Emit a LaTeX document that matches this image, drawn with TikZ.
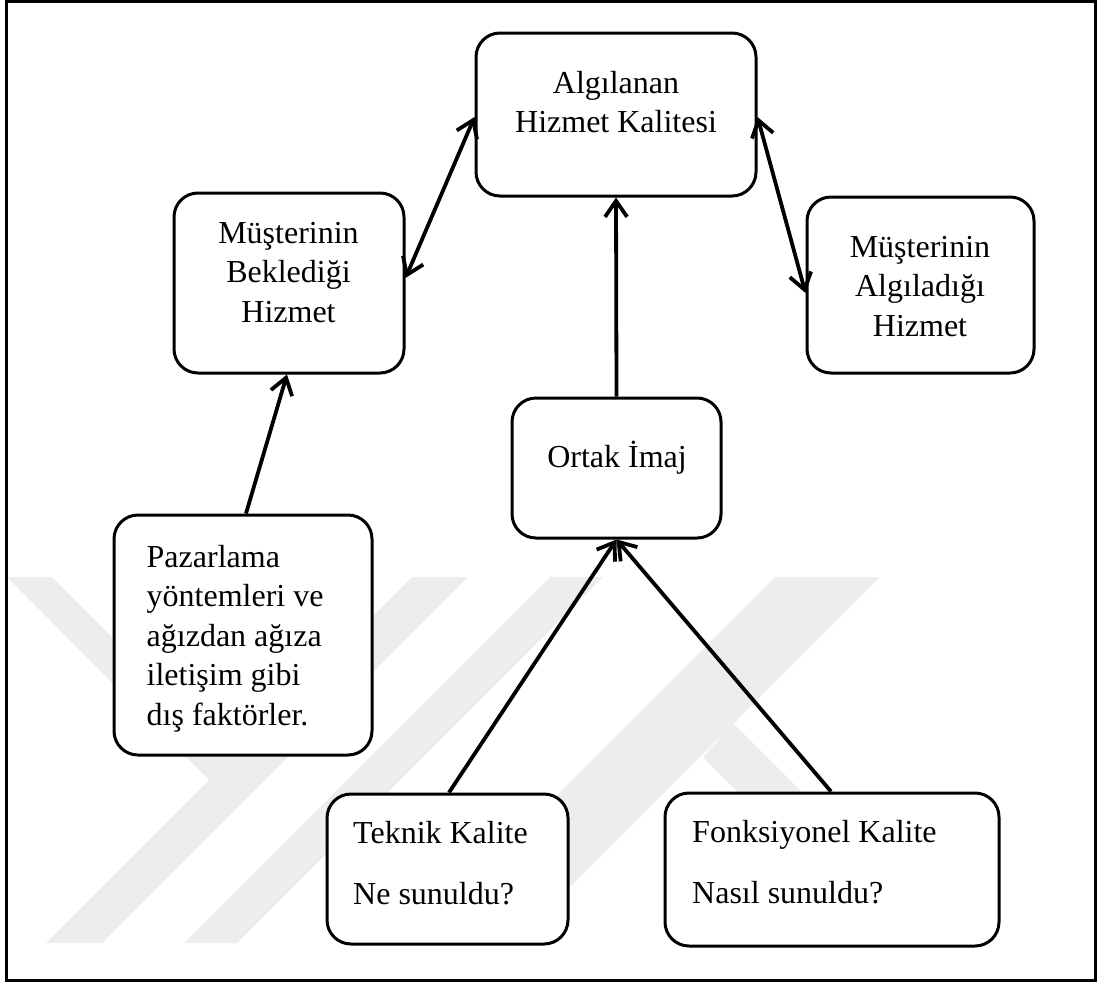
\documentclass[tikz,border=0pt]{standalone}
\usepackage{fontspec}
\setmainfont{Liberation Serif}
\usetikzlibrary{arrows.meta}
\begin{document}
\begin{tikzpicture}[x=1pt,y=-1pt,
  box/.style={draw,line width=3pt,rounded corners=24pt,fill=white,inner sep=0pt},
  txt/.style={inner sep=0pt,font=\fontsize{32}{39.5}\selectfont},
  link/.style={line width=3.8pt,-{Straight Barb[length=16pt,width=22pt]}},
  both/.style={line width=3.8pt,{Straight Barb[length=16pt,width=22pt]}-{Straight Barb[length=16pt,width=22pt]}},
  emblem/.style={fill=black!7,draw=none}
]
\useasboundingbox (0,0) rectangle (1099,983);

% faint background emblem
\fill[emblem] (7,577) -- (52,577) -- (233,758) -- (210,781) -- cycle;
\fill[emblem] (412,577) -- (468,577) -- (102,943) -- (46,943) -- cycle;
\fill[emblem] (550,577) -- (603,577) -- (237,943) -- (184,943) -- cycle;
\fill[emblem] (775,577) -- (880,577) -- (514,943) -- (409,943) -- cycle;
\fill[emblem] (703,757) -- (733.5,723.5) -- (953,943) -- (889,943) -- cycle;

% outer frame
\draw[line width=2.2pt] (6.5,1.5) rectangle (1095.5,980.5);

% boxes
\node[box,minimum width=280pt,minimum height=163pt] (alg) at (616,114.5) {};
\node[box,minimum width=230pt,minimum height=180pt] (bek) at (289,283) {};
\node[box,minimum width=227pt,minimum height=176pt] (alh) at (920.5,285) {};
\node[box,minimum width=209pt,minimum height=140pt] (ort) at (616.5,468) {};
\node[box,minimum width=258pt,minimum height=240pt] (paz) at (243,635) {};
\node[box,minimum width=241pt,minimum height=150pt] (tek) at (447.5,869) {};
\node[box,minimum width=334pt,minimum height=153pt] (fon) at (832,869.5) {};

% texts
\node[txt,anchor=base] (algT) at (616,93)
  {\begin{tabular}[t]{@{}c@{}}Algılanan\\Hizmet Kalitesi\end{tabular}};
\node[txt,anchor=base] (bekT) at (288.5,243)
  {\begin{tabular}[t]{@{}c@{}}Müşterinin\\Beklediği\\Hizmet\end{tabular}};
\node[txt,anchor=base] (alhT) at (920,257)
  {\begin{tabular}[t]{@{}c@{}}Müşterinin\\Algıladığı\\Hizmet\end{tabular}};
\node[txt,anchor=base] (ortT) at (617,467) {Ortak İmaj};
\node[txt,anchor=base west] (pazT) at (146.5,567)
  {\begin{tabular}[t]{@{}l@{}}Pazarlama\\yöntemleri ve\\ağızdan ağıza\\iletişim gibi\\dış faktörler.\end{tabular}};
\node[txt,anchor=base west] (tekT) at (353,843)
  {\begin{tabular}[t]{@{}l@{}}Teknik Kalite\\[21.5pt]Ne sunuldu?\end{tabular}};
\node[txt,anchor=base west] (fonT) at (692,842)
  {\begin{tabular}[t]{@{}l@{}}Fonksiyonel Kalite\\[21.5pt]Nasıl sunuldu?\end{tabular}};

% connectors
\draw[link] ([xshift=3pt]paz.north) -- ([xshift=-2pt]bek.south);
\draw[both] ([yshift=5pt]bek.east) -- ([yshift=-2.5pt]alg.west);
\draw[both] ([yshift=-2.5pt]alg.east) -- ([yshift=-8pt]alh.west);
\draw[link] (ort.north) -- (alg.south);
\draw[link] ([xshift=1.5pt]tek.north) -- (ort.south);
\draw[link] ([xshift=-1pt]fon.north) -- (ort.south);
\end{tikzpicture}
\end{document}
